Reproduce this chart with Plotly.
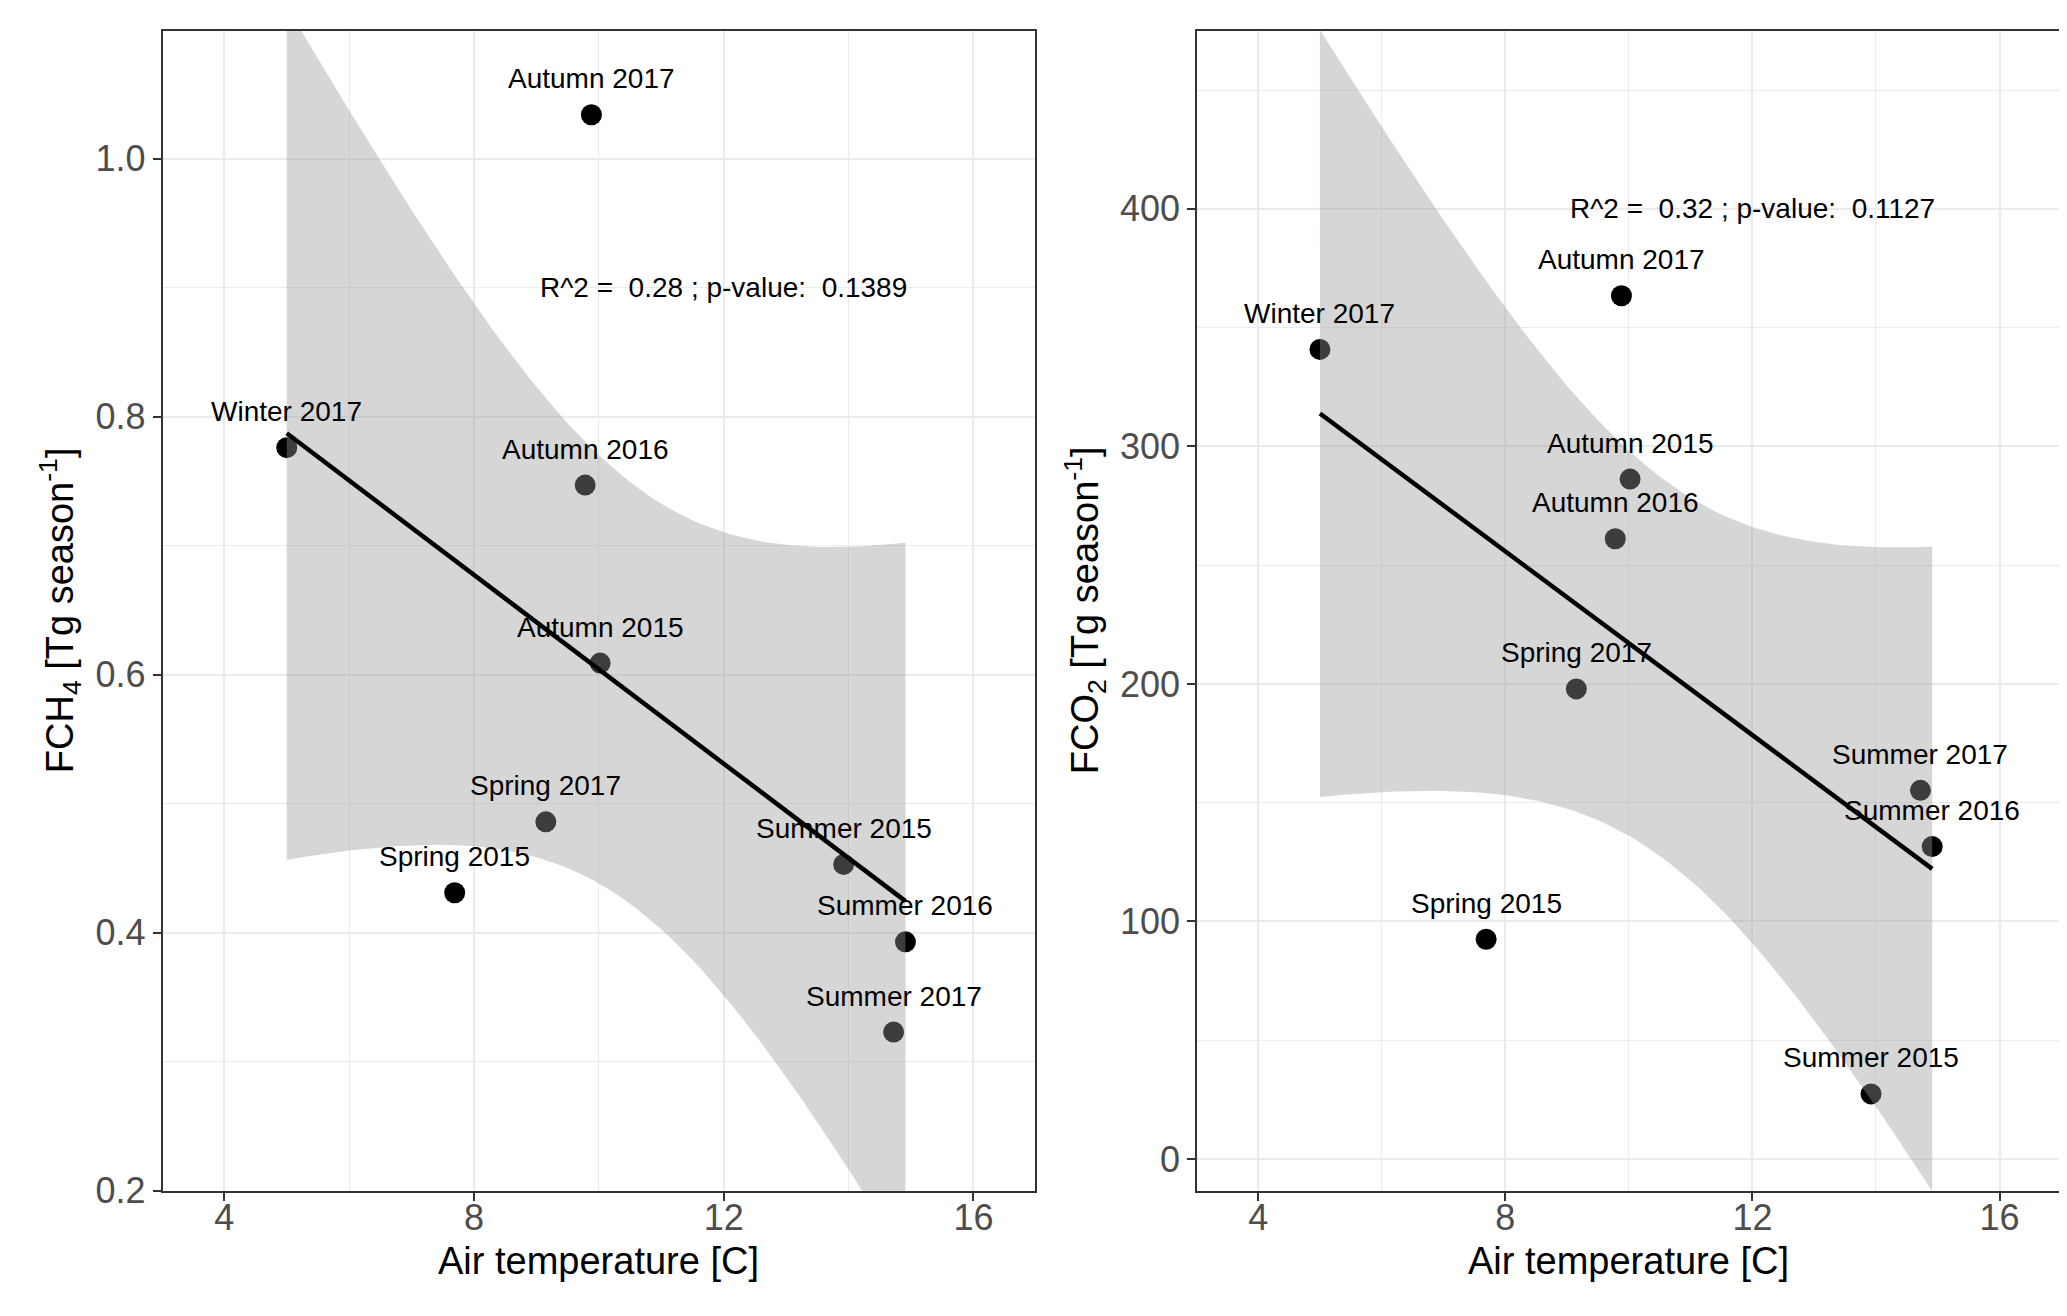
"""Seasonal CH4 / CO2 flux vs air temperature, two panels with lm fit and 95% band."""

import numpy as np
import plotly.graph_objects as go

# --- data ---------------------------------------------------------------
seasons = ["Winter 2017", "Autumn 2017", "Autumn 2016", "Autumn 2015", "Spring 2017",
           "Spring 2015", "Summer 2015", "Summer 2016", "Summer 2017"]
air_temp = [5.00, 9.88, 9.78, 10.02, 9.15, 7.69, 13.92, 14.91, 14.72]
fch4 = [0.776, 1.034, 0.747, 0.609, 0.486, 0.431, 0.453, 0.393, 0.323]
fco2 = [340.8, 363.4, 261.1, 286.2, 197.9, 92.5, 27.4, 131.5, 155.2]

stats_ch4 = "R^2 = \u00a00.28 ; p-value: \u00a00.1389"
stats_co2 = "R^2 = \u00a00.32 ; p-value: \u00a00.1127"

x_title = "Air temperature [C]"
ch4_title = "FCH<sub>4</sub> [Tg season<sup>-1</sup>]"
co2_title = "FCO<sub>2</sub> [Tg season<sup>-1</sup>]"

FONT = "Liberation Sans, Arial, sans-serif"
T975 = 2.364624  # Student t 0.975 quantile for n - 2 = 7 df (as in geom_smooth)
W, H = 2067, 1316


def lm_band(x, y, n=80):
    x = np.asarray(x, dtype=float)
    y = np.asarray(y, dtype=float)
    slope, intercept = np.polyfit(x, y, 1)
    resid = y - (intercept + slope * x)
    s = np.sqrt(np.sum(resid ** 2) / (len(x) - 2))
    xs = np.linspace(x.min(), x.max(), n)
    fit = intercept + slope * xs
    se = s * np.sqrt(1 / len(x) + (xs - x.mean()) ** 2 / np.sum((x - x.mean()) ** 2))
    return xs, fit, fit - T975 * se, fit + T975 * se


def add_panel(fig, xa, ya, yvals, stats_text, stats_pos):
    # points first, so the translucent band greys the ones it covers (as in ggplot)
    fig.add_trace(go.Scatter(
        x=air_temp, y=yvals, mode="markers", xaxis=xa, yaxis=ya,
        marker=dict(color="black", size=21, line=dict(width=0)),
        showlegend=False, hoverinfo="skip",
    ))
    xs, fit, lo, hi = lm_band(air_temp, yvals)
    fig.add_trace(go.Scatter(
        x=np.concatenate([xs, xs[::-1]]), y=np.concatenate([hi, lo[::-1]]),
        mode="lines", fill="toself", fillcolor="rgba(153,153,153,0.4)",
        line=dict(width=0), xaxis=xa, yaxis=ya, showlegend=False, hoverinfo="skip",
    ))
    fig.add_trace(go.Scatter(
        x=xs, y=fit, mode="lines", line=dict(color="black", width=4.5),
        xaxis=xa, yaxis=ya, showlegend=False, hoverinfo="skip",
    ))
    for name, xv, yv in zip(seasons, air_temp, yvals):
        fig.add_annotation(x=xv, y=yv, xref=xa, yref=ya, text=name, showarrow=False,
                           yshift=36, font=dict(family=FONT, size=28, color="black"))
    fig.add_annotation(x=stats_pos[0], y=stats_pos[1], xref=xa, yref=ya, text=stats_text,
                       showarrow=False, font=dict(family=FONT, size=28, color="black"))


def axis_style(domain, rng, tick0, dtick, minor_dtick, **extra):
    d = dict(
        domain=domain, range=rng, tick0=tick0, dtick=dtick,
        ticks="outside", ticklen=8, tickwidth=1.5, tickcolor="#333333",
        showline=True, mirror=True, linecolor="#333333", linewidth=1.5,
        showgrid=True, gridcolor="#EBEBEB", gridwidth=2, zeroline=False,
        minor=dict(tick0=tick0, dtick=minor_dtick, showgrid=True, gridcolor="#EBEBEB", gridwidth=1),
        tickfont=dict(family=FONT, size=36, color="#4D4D4D"),
        fixedrange=True,
    )
    d.update(extra)
    return d


fig = go.Figure()
add_panel(fig, "x", "y", fch4, stats_ch4, (12, 0.9))
add_panel(fig, "x2", "y2", fco2, stats_co2, (12, 400))

ydom = [1 - 1202 / H, 1 - 23 / H]
fig.update_layout(
    width=W, height=H,
    margin=dict(l=0, r=0, t=0, b=0),
    paper_bgcolor="white", plot_bgcolor="white",
    font=dict(family=FONT),
    xaxis=axis_style([154.5 / W, 1027.3 / W], [3.01, 16.99], 0, 4, 2, anchor="y",
                     ticklabelstandoff=-14),
    yaxis=axis_style(ydom, [0.2, 1.0992], 0.2, 0.2, 0.1, anchor="x", tickformat=".1f"),
    xaxis2=axis_style([1189 / W, 2052.7 / W], [3.01, 16.99], 0, 4, 2, anchor="y2",
                      ticklabelstandoff=-14),
    yaxis2=axis_style(ydom, [-13.4, 475.0], 0, 100, 50, anchor="x2"),
)

title_font = dict(family=FONT, size=38, color="black")
for xc in (590.9, 1620.8):
    fig.add_annotation(x=xc / W, y=1 - 1273 / H, xref="paper", yref="paper", text=x_title,
                       showarrow=False, font=title_font, xanchor="center", yanchor="middle")
for xc, txt in ((52, ch4_title), (1077, co2_title)):
    fig.add_annotation(x=xc / W, y=1 - 612 / H, xref="paper", yref="paper", text=txt,
                       textangle=-90, showarrow=False, font=title_font,
                       xanchor="center", yanchor="middle")

fig.write_html("out.html")
